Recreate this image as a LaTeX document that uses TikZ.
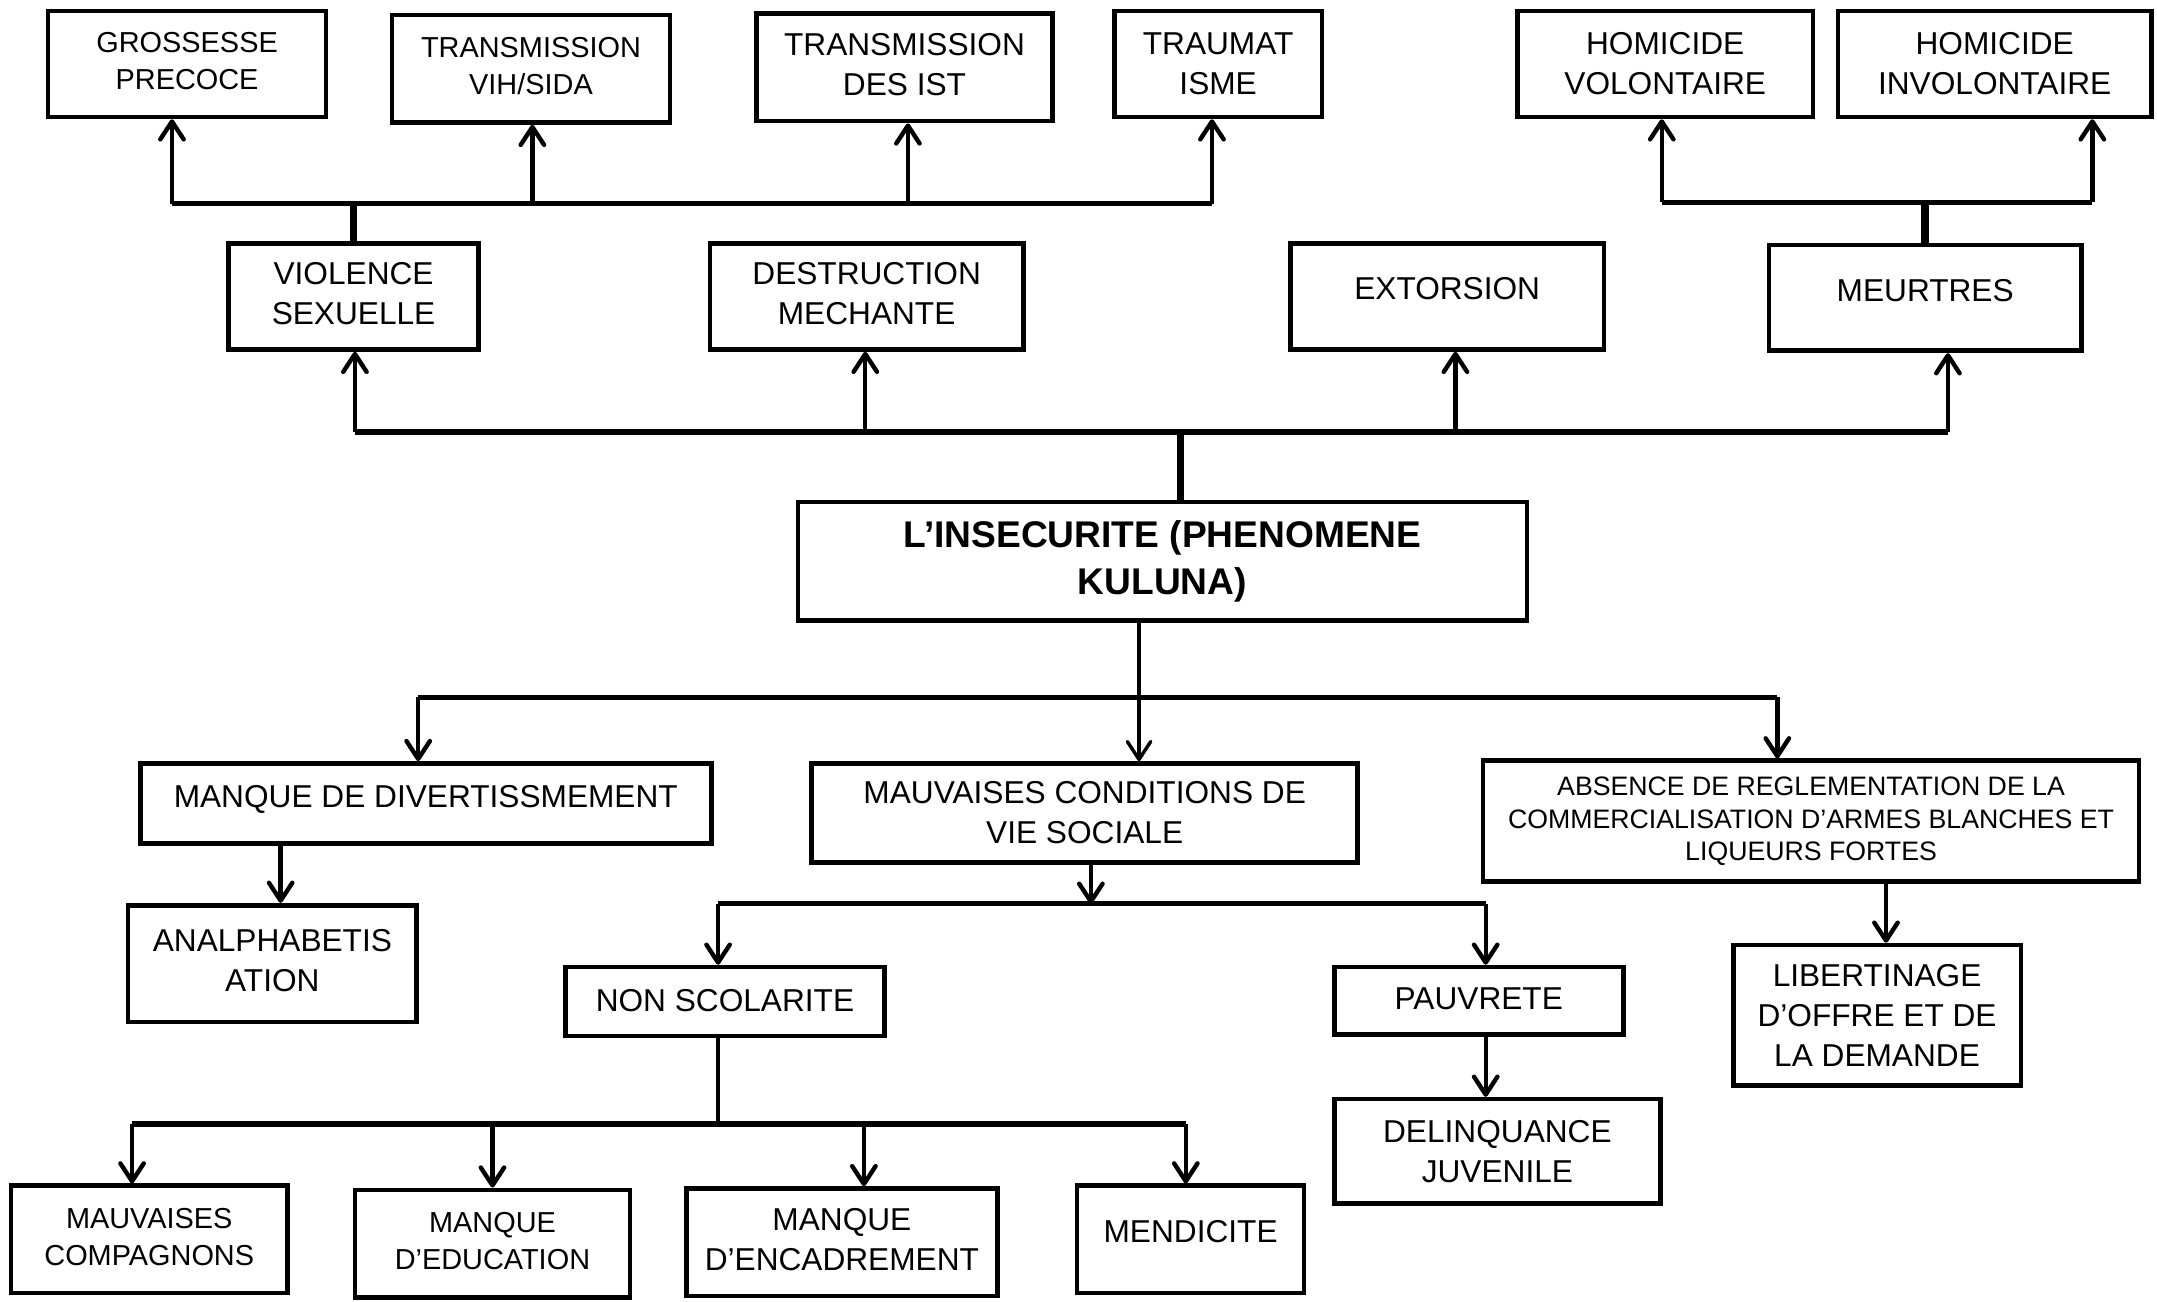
\documentclass[tikz,border=0pt]{standalone}
\usepackage{fontspec}
\setmainfont{Liberation Sans}
\usetikzlibrary{arrows.meta}

\tikzset{
  box/.style={draw, line width=3.4pt, align=center, inner sep=0pt,
              font=\fontsize{23}{29}\selectfont},
  smalltext/.style={font=\fontsize{21}{27}\selectfont},
  tip/.tip={Straight Barb[length=13pt,width=17pt,round]},
  arr/.style={line width=3.2pt, -tip},
  thinarr/.style={line width=2.5pt, -tip},
  bus/.style={line width=3.8pt},
  stem/.style={line width=5.5pt},
  link/.style={line width=3.3pt}
}
% two-line label with the line spacing of the current font
\newcommand{\twolines}[2]{\begin{tabular}{@{}c@{}}#1\\#2\end{tabular}}

\begin{document}
\begin{tikzpicture}[x=1pt,y=-1pt]
\useasboundingbox (0,0) rectangle (1568,946);
\fill[white] (0,0) rectangle (1568,946);

% ---- consequences, top row
\node[box, smalltext, minimum width=202pt, minimum height=77pt] (gro) at (136,46.5) {\raisebox{4pt}{\twolines{GROSSESSE}{PRECOCE}}};
\node[box, smalltext, minimum width=202pt, minimum height=78pt] (vih) at (386,50) {\raisebox{4pt}{\twolines{TRANSMISSION}{VIH/SIDA}}};
\node[box, minimum width=215pt, minimum height=78pt] (ist) at (657.5,49) {\raisebox{2pt}{\twolines{TRANSMISSION}{DES IST}}};
\node[box, minimum width=151pt, minimum height=77pt] (tra) at (885.5,46.5) {TRAUMAT\\ISME};
\node[box, minimum width=215pt, minimum height=77pt] (hv) at (1210.5,46.5) {HOMICIDE\\VOLONTAIRE};
\node[box, minimum width=228pt, minimum height=77pt] (hi) at (1450,46.5) {HOMICIDE\\INVOLONTAIRE};

% ---- consequences, second row
\node[box, minimum width=182pt, minimum height=77pt] (vio) at (257,215.5) {\raisebox{2pt}{\twolines{VIOLENCE}{SEXUELLE}}};
\node[box, minimum width=228pt, minimum height=77pt] (des) at (630,215.5) {\raisebox{2pt}{\twolines{DESTRUCTION}{MECHANTE}}};
\node[box, minimum width=228pt, minimum height=77pt] (ext) at (1052,215.5) {\raisebox{11pt}{EXTORSION}};
\node[box, minimum width=227pt, minimum height=77pt] (meu) at (1399.5,216.5) {\raisebox{10.5pt}{MEURTRES}};

% ---- central problem
\node[box, minimum width=530pt, minimum height=86pt,
      font=\bfseries\fontsize{27}{34}\selectfont] (ins) at (845,408)
      {L’INSECURITE (PHENOMENE\\KULUNA)};

% ---- causes
\node[box, minimum width=415pt, minimum height=58pt] (mdv) at (309.5,584) {\raisebox{10.5pt}{MANQUE DE DIVERTISSMEMENT}};
\node[box, minimum width=397pt, minimum height=72pt] (mcv) at (788.5,591) {MAUVAISES CONDITIONS DE\\VIE SOCIALE};
\node[box, minimum width=477pt, minimum height=88pt,
      font=\fontsize{19.4}{23.5}\selectfont] (abs) at (1316.5,597)
      {ABSENCE DE REGLEMENTATION DE LA\\COMMERCIALISATION D’ARMES BLANCHES ET\\LIQUEURS FORTES};

\node[box, minimum width=210pt, minimum height=85pt] (ana) at (198,700.5) {\raisebox{6pt}{\twolines{ANALPHABETIS}{ATION}}};
\node[box, minimum width=232pt, minimum height=50pt] (nsc) at (527,728) {\raisebox{2pt}{NON SCOLARITE}};
\node[box, minimum width=210pt, minimum height=49pt] (pau) at (1075,727.5) {\raisebox{2.5pt}{PAUVRETE}};
\node[box, minimum width=237pt, minimum height=76pt] (del) at (1088.5,837) {DELINQUANCE\\JUVENILE};
\node[box, minimum width=209pt, minimum height=102pt] (lib) at (1364.5,738) {LIBERTINAGE\\D’OFFRE ET DE\\LA DEMANDE};

\node[box, smalltext, minimum width=201pt, minimum height=78pt] (mco) at (108.5,901) {\raisebox{5pt}{\twolines{MAUVAISES}{COMPAGNONS}}};
\node[box, smalltext, minimum width=200pt, minimum height=78pt] (med) at (358,904) {\raisebox{5pt}{\twolines{MANQUE}{D’EDUCATION}}};
\node[box, minimum width=226pt, minimum height=78pt] (men) at (612,903) {\raisebox{1pt}{\twolines{MANQUE}{D’ENCADREMENT}}};
\node[box, minimum width=165pt, minimum height=78pt] (mdc) at (865.5,901) {\raisebox{12pt}{MENDICITE}};

% ---- junction points
\coordinate (ta1) at (125,148);
\coordinate (ta2) at (387,148);
\coordinate (ta3) at (660,148);
\coordinate (ta4) at (881,148);
\coordinate (tb1) at (1208,147);
\coordinate (tb2) at (1521,147);
\coordinate (ma1) at (258,314);
\coordinate (ma2) at (629,314);
\coordinate (ma3) at (1058,314);
\coordinate (ma4) at (1416,314);
\coordinate (ms)  at (858,314);
\coordinate (la0) at (828,507);
\coordinate (la1) at (304,507);
\coordinate (la2) at (1292,507);
\coordinate (xana) at (204,613);
\coordinate (xmcv) at (793,657);
\coordinate (lb1) at (522,657);
\coordinate (lb2) at (1080,657);
\coordinate (xabs) at (1371,641);
\coordinate (lc1) at (96,817);
\coordinate (lc2) at (358,817);
\coordinate (lc3) at (628,817);
\coordinate (lc4) at (862,817);
\coordinate (xnsc) at (522,817);

% ---- violence sexuelle -> its consequences
\draw[bus] (ta1) -- (ta4);
\draw[stem] (vio.north) -- (vio.north |- ta1);
\draw[arr] (ta1) -- (ta1 |- gro.south);
\draw[arr] (ta2) -- (ta2 |- vih.south);
\draw[arr] (ta3) -- (ta3 |- ist.south);
\draw[arr] (ta4) -- (ta4 |- tra.south);

% ---- meurtres -> homicides
\draw[bus] (tb1) -- (tb2);
\draw[stem] (meu.north) -- (meu.north |- tb1);
\draw[arr] (tb1) -- (tb1 |- hv.south);
\draw[arr] (tb2) -- (tb2 |- hi.south);

% ---- insecurite -> consequences
\draw[bus] (ma1) -- (ma4);
\draw[stem] (ms) -- (ms |- ins.north);
\draw[arr] (ma1) -- (ma1 |- vio.south);
\draw[arr] (ma2) -- (ma2 |- des.south);
\draw[arr] (ma3) -- (ma3 |- ext.south);
\draw[arr] (ma4) -- (ma4 |- meu.south);

% ---- insecurite -> causes
\draw[bus] (la1) -- (la2);
\draw[link] (la0 |- ins.south) -- (la0);
\draw[thinarr] (la0) -- (la0 |- mcv.north);
\draw[arr] (la1) -- (la1 |- mdv.north);
\draw[arr] (la2) -- (la2 |- abs.north);

% ---- second level causes
\draw[arr] (xana |- mdv.south) -- (xana |- ana.north);
\draw[arr] (xmcv |- mcv.south) -- (xmcv);
\draw[bus] (lb1) -- (lb2);
\draw[arr] (lb1) -- (lb1 |- nsc.north);
\draw[arr] (lb2) -- (lb2 |- pau.north);
\draw[arr] (lb2 |- pau.south) -- (lb2 |- del.north);
\draw[arr] (xabs |- abs.south) -- (xabs |- lib.north);

% ---- non scolarite -> its effects
\draw[link] (xnsc |- nsc.south) -- (xnsc);
\draw[bus] (lc1) -- (lc4);
\draw[arr] (lc1) -- (lc1 |- mco.north);
\draw[arr] (lc2) -- (lc2 |- med.north);
\draw[arr] (lc3) -- (lc3 |- men.north);
\draw[arr] (lc4) -- (lc4 |- mdc.north);
\end{tikzpicture}
\end{document}
